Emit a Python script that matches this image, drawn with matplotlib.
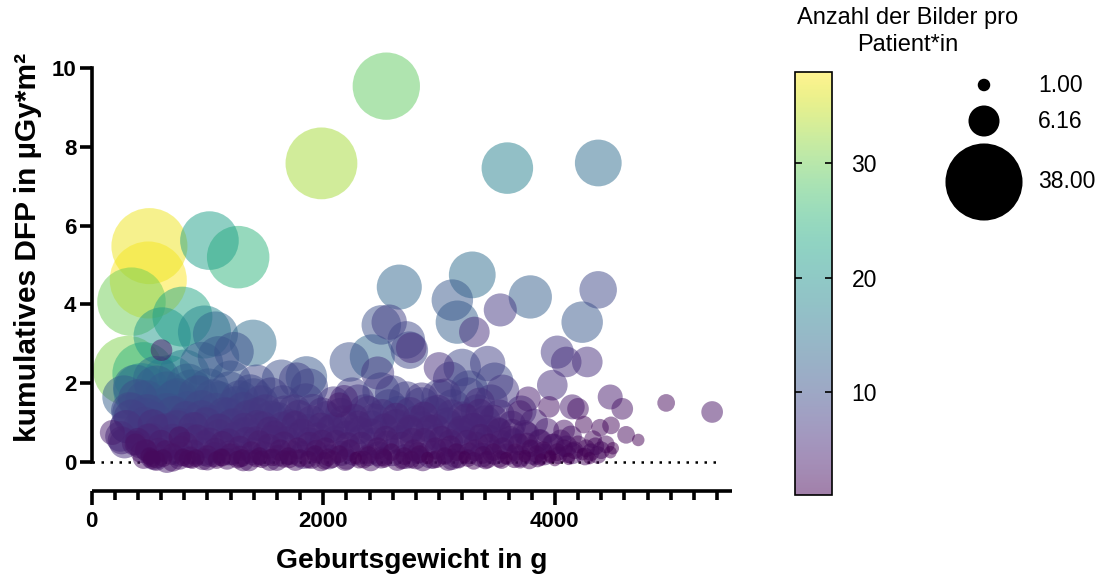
import numpy as np
import matplotlib
matplotlib.use("Agg")
import matplotlib.pyplot as plt
from matplotlib.colors import Normalize, ListedColormap
from matplotlib.cm import ScalarMappable

plt.rcParams["font.family"] = ["Liberation Sans", "DejaVu Sans"]

# --- data: birth weight (g), cumulative DFP (µGy*m²), images per patient ---
# larger, well separated bubbles
top_weight = [2545, 1985, 3590, 4375, 500, 490, 345, 315,
              1018, 1266, 785, 610, 1395, 975, 1070, 670,
              620, 450, 430, 800, 1096, 1230, 950, 1200,
              1425, 345, 285, 759, 604,
              2657, 3287, 3115, 3158, 3305, 3529, 3788, 4374,
              4236, 4021, 4098, 4280, 3978, 4478, 4582, 4961,
              5358, 4150, 4200, 4250, 4390, 4485, 4615, 4720,
              4480, 4330, 2502, 2718, 2760, 2226, 2424, 2470,
              1855, 1770, 2140, 3000, 3200, 3100, 3420, 3480,
              3550, 3770, 3950, 4080, 3250, 3700, 1640, 1880,
              2570, 2744, 2180]
top_dfp = [9.54, 7.58, 7.46, 7.59, 5.48, 4.62, 4.07, 2.32,
           5.62, 5.20, 3.69, 3.20, 3.02, 3.30, 3.25, 2.00,
           1.45, 2.25, 1.80, 2.20, 2.67, 2.80, 2.50, 2.05,
           2.00, 1.14, 0.48, 0.63, 2.84,
           4.44, 4.75, 4.11, 3.55, 3.30, 3.86, 4.19, 4.37,
           3.55, 2.79, 2.54, 2.54, 1.95, 1.65, 1.35, 1.50,
           1.27, 1.40, 1.35, 0.95, 0.87, 0.93, 0.69, 0.56,
           0.25, 0.58, 3.48, 3.10, 2.90, 2.54, 2.67, 2.26,
           2.16, 2.08, 1.45, 2.40, 2.40, 2.10, 2.50, 2.05,
           1.80, 1.60, 1.40, 0.80, 1.70, 1.25, 2.10, 1.90,
           3.55, 2.84, 1.60]
top_images = [29, 33, 17, 14, 37, 38, 30, 31,
              22, 25, 23, 21, 14, 18, 13, 20,
              15, 25, 20, 17, 11, 10, 12, 11,
              9, 8, 6, 3, 3,
              13, 14, 11, 12, 6, 7, 12, 9,
              11, 7, 6, 6, 6, 4, 3, 2,
              3, 4, 3, 2, 2, 2, 2, 1,
              1, 2, 10, 9, 6, 10, 13, 7,
              11, 8, 4, 6, 9, 8, 8, 9,
              7, 4, 3, 3, 8, 4, 10, 9,
              8, 9, 5]

# low-dose patients across the whole weight range
band_weight = [180, 250, 300, 330, 380, 400, 420, 460, 480, 500,
               520, 540, 560, 580, 600, 620, 650, 680, 700, 720, 740, 770, 790,
               820, 840, 860, 880, 900, 920, 950, 980, 1000, 1020, 1050, 1070,
               1100, 1120, 1150, 1180, 1200,
               1220, 1250, 1280, 1300, 1320, 1350, 1380, 1400, 1420, 1450,
               1480, 1500, 1530, 1560, 1580,
               1610, 1630, 1650, 1680, 1700, 1720, 1750, 1780, 1800, 1820,
               1850, 1880, 1900, 1930, 1960, 1990,
               2020, 2040, 2060, 2090, 2110, 2140, 2170, 2200, 2230, 2250,
               2280, 2300, 2330, 2360, 2390,
               2420, 2440, 2470, 2500, 2520, 2540, 2570, 2590, 2620, 2650,
               2680, 2700, 2720, 2750, 2780,
               2810, 2830, 2850, 2870, 2900, 2920, 2950, 2970, 3000, 3020,
               3050, 3070, 3100, 3120, 3150, 3180, 3200,
               3220, 3240, 3260, 3290, 3310, 3330, 3360, 3380, 3400, 3430,
               3450, 3470, 3500, 3520, 3550, 3580,
               3610, 3630, 3660, 3690, 3710, 3740, 3760, 3790, 3820, 3840,
               3870, 3900, 3930, 3960, 3990,
               4020, 4050, 4080, 4110, 4140, 4170, 4200, 4240, 4270, 4310,
               4350, 4400, 4440, 4500,
               470, 520, 450, 560, 650, 760, 870, 960, 1080, 1170,
               1260, 1360, 1470, 1540, 1660, 1760, 1870, 1980, 2080, 2190,
               2310, 2410, 2530, 2640, 2760, 2860, 2980, 3080, 3170, 3300,
               3420, 3540, 3650, 3780, 3880, 4000, 4120, 4300]
band_dfp = [0.75, 0.65, 0.90, 1.30, 0.45, 1.60, 0.45, 0.95, 1.25, 0.15,
            0.60, 1.05, 1.90, 0.30, 0.80, 0.10, 1.25, 0.50, 0.20, 1.55, 0.90, 0.35, 0.12,
            1.10, 0.60, 1.80, 0.25, 0.10, 0.85, 1.35, 0.45, 0.15, 1.00, 1.60, 0.30,
            0.70, 0.12, 1.20, 0.50, 0.20,
            0.95, 1.45, 0.35, 0.10, 0.75, 1.15, 0.25, 1.65, 0.55, 0.15,
            0.90, 1.30, 0.40, 0.12, 0.70,
            1.10, 0.30, 1.50, 0.55, 0.15, 0.95, 1.30, 0.35, 0.10, 0.75,
            1.55, 0.45, 1.05, 0.20, 0.65, 1.25,
            0.35, 0.12, 0.85, 1.50, 0.50, 0.20, 1.05, 0.70, 0.30, 1.70,
            0.10, 0.95, 0.45, 1.30, 0.18,
            0.75, 1.10, 0.35, 1.80, 0.12, 0.60, 1.40, 0.25, 0.95, 1.20,
            0.45, 0.15, 1.60, 0.80, 0.30,
            1.05, 0.20, 1.45, 0.55, 0.10, 0.85, 1.25, 0.35, 1.65, 0.60,
            0.15, 1.00, 0.40, 1.40, 0.25, 0.75, 1.15,
            0.12, 0.50, 1.85, 0.90, 0.30, 1.30, 0.65, 0.18, 1.05, 0.45,
            1.55, 0.25, 0.80, 1.20, 0.35, 0.10,
            0.60, 0.95, 0.25, 0.45, 1.30, 0.15, 0.70, 0.35, 1.00, 0.20,
            0.55, 0.30, 0.80, 0.15, 0.45,
            0.25, 0.55, 0.35, 0.20, 0.65, 0.30, 0.45, 0.20, 0.35, 0.25,
            0.40, 0.30, 0.45, 0.35,
            0.30, 0.05, 0.10, 0.06, 0.04, 0.08, 0.05, 0.07, 0.05, 0.08,
            0.06, 0.04, 0.07, 0.05, 0.08, 0.05, 0.06, 0.04, 0.07, 0.05,
            0.06, 0.04, 0.08, 0.05, 0.06, 0.04, 0.07, 0.05, 0.06, 0.03,
            0.06, 0.05, 0.07, 0.04, 0.06, 0.05, 0.08, 0.10]
band_images = [4, 6, 7, 9, 3, 10, 5, 8, 9, 2,
               6, 9, 12, 4, 7, 2, 10, 6, 3, 11, 7, 4, 2,
               8, 6, 12, 4, 2, 7, 9, 5, 3, 8, 10, 4,
               6, 2, 8, 5, 3,
               7, 9, 4, 2, 6, 7, 3, 9, 5, 2,
               6, 7, 4, 2, 5,
               7, 3, 8, 5, 2, 6, 7, 3, 2, 5,
               8, 4, 6, 2, 5, 6,
               3, 2, 5, 7, 4, 2, 6, 5, 3, 8,
               1, 5, 4, 7, 2,
               5, 6, 3, 9, 2, 4, 8, 2, 6, 9,
               4, 2, 8, 5, 3,
               6, 2, 8, 4, 1, 5, 7, 3, 8, 4,
               2, 6, 3, 8, 2, 5, 6,
               1, 4, 9, 5, 3, 7, 4, 2, 6, 3,
               7, 2, 5, 6, 3, 1,
               4, 5, 2, 3, 6, 1, 4, 2, 5, 2,
               3, 2, 4, 1, 3,
               2, 3, 2, 2, 3, 2, 2, 1, 2, 2,
               2, 2, 2, 1,
               3, 2, 3, 2, 4, 3, 2, 3, 2, 3,
               2, 3, 2, 3, 2, 3, 2, 3, 2, 3,
               2, 3, 2, 3, 2, 3, 2, 3, 2, 2,
               2, 2, 2, 2, 1, 1, 1, 1]

# further patients filling the crowded region below ~2.3 µGy*m²
dense_weight = [470, 400, 430, 540, 640, 760, 850, 970, 1060, 1190,
                1280, 1400, 1490, 1610, 1720, 1830, 1940, 2050, 2160, 2270,
                2390, 2480, 2600, 2710, 2820, 2930, 3040, 3150, 3260, 3370,
                3480, 3590, 3700, 3820, 3910, 4030, 4150, 4260, 4370,
                260, 370, 490, 600, 700, 810, 910, 1020, 1130, 1240,
                1340, 1450, 1560, 1660, 1770, 1880, 1990, 2100, 2210, 2330,
                2440, 2550, 2660, 2770, 2880, 2990, 3100, 3210, 3320, 3430,
                3540, 3650, 3760, 3870, 3980, 4100,
                300, 420, 530, 650, 760, 880, 990, 1100, 1210, 1320,
                1430, 1540, 1650, 1760, 1870, 1980, 2090, 2200, 2310, 2420,
                2530, 2640, 2750, 2860, 2970, 3080, 3190, 3300, 3410, 3520,
                3630, 3740,
                350, 470, 590, 710, 830, 950, 1070, 1190, 1310, 1430,
                1550, 1670, 1790, 1910, 2030, 2150, 2270, 2390, 2510, 2630,
                2750, 2870, 2990, 3110, 3230, 3350, 3470,
                280, 380, 470, 560, 650, 740, 830, 920, 1010, 1100,
                1190, 1280, 1370, 1460, 1550, 2300, 2600, 2850, 3050, 3350,
                560, 520, 700, 830, 1000, 1130, 1310, 1420, 1600, 1710,
                1900, 2010, 2200, 2350, 2500, 2680, 2800, 2950, 3110, 3250,
                3400, 3520, 3700, 3850, 3960]
dense_dfp = [0.30, 0.55, 0.25, 0.15, 0.28, 0.20, 0.12, 0.26, 0.19, 0.23,
             0.14, 0.27, 0.21, 0.16, 0.24, 0.18, 0.29, 0.13, 0.22, 0.26,
             0.17, 0.21, 0.25, 0.14, 0.23, 0.19, 0.27, 0.16, 0.22, 0.18,
             0.25, 0.20, 0.15, 0.24, 0.19, 0.17, 0.22, 0.14, 0.18,
             0.55, 0.48, 0.62, 0.50, 0.58, 0.45, 0.60, 0.52, 0.47, 0.63,
             0.54, 0.49, 0.59, 0.46, 0.61, 0.53, 0.50, 0.57, 0.44, 0.60,
             0.52, 0.48, 0.58, 0.55, 0.47, 0.62, 0.51, 0.56, 0.45, 0.59,
             0.50, 0.54, 0.47, 0.52, 0.44, 0.40,
             0.90, 0.85, 0.95, 0.82, 0.92, 0.88, 0.97, 0.84, 0.91, 0.86,
             0.93, 0.80, 0.89, 0.95, 0.83, 0.90, 0.87, 0.94, 0.81, 0.92,
             0.88, 0.96, 0.84, 0.90, 0.86, 0.93, 0.82, 0.89, 0.85, 0.80,
             0.78, 0.75,
             1.25, 1.15, 1.35, 1.20, 1.30, 1.12, 1.28, 1.18, 1.33, 1.22,
             1.14, 1.27, 1.19, 1.31, 1.16, 1.24, 1.12, 1.29, 1.21, 1.15,
             1.26, 1.18, 1.32, 1.20, 1.13, 1.25, 1.10,
             1.65, 1.90, 1.55, 2.10, 1.75, 1.60, 1.95, 1.70, 1.85, 1.55,
             1.80, 1.60, 1.75, 1.50, 1.70, 1.55, 1.75, 1.60, 1.70, 1.50,
             0.05, 0.10, 0.03, 0.08, 0.06, 0.11, 0.04, 0.09, 0.05, 0.07,
             0.10, 0.03, 0.08, 0.06, 0.11, 0.04, 0.09, 0.05, 0.07, 0.10,
             0.04, 0.08, 0.06, 0.09, 0.12]
dense_images = [3, 4, 3, 5, 3, 4, 3, 5, 4, 4,
                3, 5, 4, 3, 4, 5, 3, 4, 4, 5,
                3, 4, 5, 4, 3, 5, 4, 4, 3, 4,
                4, 3, 3, 4, 3, 2, 3, 2, 2,
                5, 4, 5, 4, 6, 4, 5, 5, 4, 6,
                5, 4, 5, 4, 6, 5, 4, 5, 4, 5,
                5, 4, 5, 4, 5, 5, 4, 5, 4, 5,
                4, 4, 3, 4, 3, 3,
                7, 8, 6, 7, 8, 6, 7, 6, 7, 6,
                6, 5, 6, 5, 6, 5, 6, 5, 5, 6,
                5, 6, 5, 6, 5, 6, 5, 5, 5, 4,
                4, 4,
                10, 9, 11, 9, 10, 8, 9, 8, 8, 7,
                7, 7, 6, 7, 6, 6, 5, 6, 6, 5,
                6, 5, 6, 6, 5, 5, 5,
                12, 13, 11, 14, 12, 11, 12, 10, 11, 10,
                10, 9, 9, 8, 8, 7, 8, 7, 7, 6,
                3, 2, 3, 2, 3, 2, 3, 2, 3, 2,
                3, 2, 3, 2, 3, 2, 3, 2, 3, 2,
                2, 2, 2, 2, 1]

legend_values = [1.00, 6.16, 38.00]
cbar_ticks = [10, 20, 30]
y_ticks = [0, 2, 4, 6, 8, 10]
x_major = [0, 2000, 4000]

weight = np.array(top_weight + band_weight + dense_weight, dtype=float)
dfp = np.array(top_dfp + band_dfp + dense_dfp, dtype=float)
images = np.array(top_images + band_images + dense_images, dtype=float)

# bubble area proportional to image count
AREA_PER_IMAGE = 81.0
order = np.argsort(-images, kind="stable")

fig = plt.figure(figsize=(11.04, 5.81), dpi=100)
ax = fig.add_axes([0.0829, 0.1546, 0.5802, 0.769])

norm = Normalize(vmin=1, vmax=38)
ax.axhline(0, xmin=0, xmax=5420 / 5530, color="black", lw=1.8,
           linestyle=(0, (1, 2.6)), zorder=1)
ax.scatter(weight[order], dfp[order], s=images[order] * AREA_PER_IMAGE,
           c=images[order], cmap="viridis", norm=norm, alpha=0.5,
           linewidths=0, zorder=2, clip_on=False)

ax.set_xlim(0, 5530)
ax.set_ylim(-0.74, 10.6)

for side in ("top", "right"):
    ax.spines[side].set_visible(False)
ax.spines["left"].set_bounds(0, 10)
ax.spines["left"].set_linewidth(2.6)
ax.spines["bottom"].set_linewidth(2.6)
ax.spines["bottom"].set_capstyle("butt")

ax.set_yticks(y_ticks)
ax.set_xticks(x_major)
ax.set_xticks(np.arange(0, 5401, 200), minor=True)
ax.tick_params(axis="y", which="major", length=9, width=2.6, direction="out",
               labelsize=16, pad=2)
ax.tick_params(axis="x", which="major", length=10, width=2.6, direction="out",
               labelsize=16, pad=4)
ax.tick_params(axis="x", which="minor", length=6.5, width=2.6, direction="out")
for lbl in ax.get_xticklabels() + ax.get_yticklabels():
    lbl.set_fontweight("bold")

ax.set_xlabel("Geburtsgewicht in g", fontsize=20.3, fontweight="bold", labelpad=12)
ax.set_ylabel("kumulatives DFP in µGy*m²", fontsize=21.5, fontweight="bold")
ax.yaxis.set_label_coords(-0.077, 0.545)

# colour bar showing the translucent viridis scale
base = plt.get_cmap("viridis")(np.linspace(0, 1, 256))
soft = base.copy()
soft[:, :3] = base[:, :3] * 0.5 + 0.5
soft_cmap = ListedColormap(soft)
cax = fig.add_axes([0.7201, 0.148, 0.0335, 0.728])
cb = fig.colorbar(ScalarMappable(norm=norm, cmap=soft_cmap), cax=cax)
cb.set_ticks(cbar_ticks)
cb.outline.set_linewidth(1.2)
cax.tick_params(direction="in", left=True, right=True, length=5, width=1.2,
                labelsize=16.5, pad=14)
fig.text(0.822, 0.946, "Anzahl der Bilder pro\nPatient*in", ha="center",
         va="center", fontsize=17, linespacing=1.3)

# size key
kax = fig.add_axes([0, 0, 1, 1])
kax.set_xlim(0, 1104)
kax.set_ylim(581, 0)
kax.axis("off")
key_y = [85, 121, 182]
kax.scatter([984] * len(legend_values), key_y,
            s=np.array(legend_values) * AREA_PER_IMAGE, color="black",
            linewidths=0, clip_on=False)
for v, yy in zip(legend_values, key_y):
    kax.text(1038, yy, f"{v:.2f}", ha="left", va="center", fontsize=16.5)

fig.savefig("out.png", dpi=100)
